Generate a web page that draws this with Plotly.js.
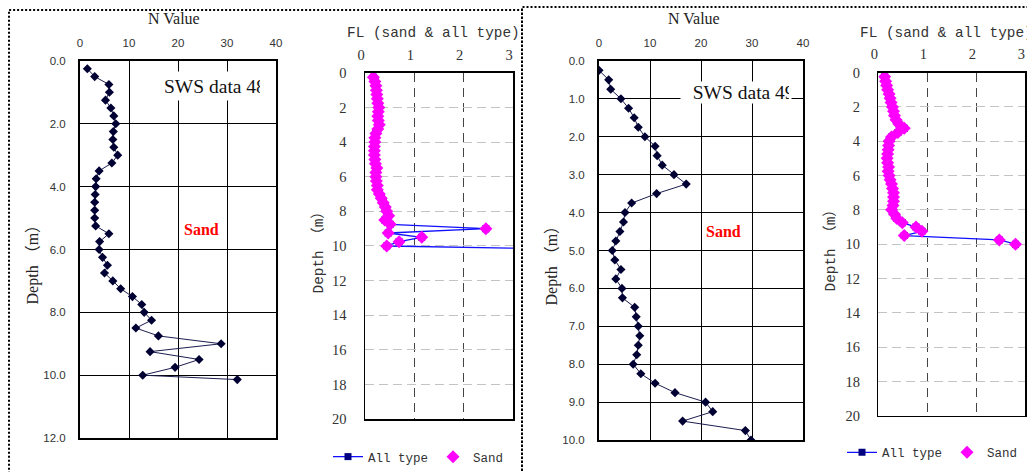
<!DOCTYPE html>
<html>
<head>
<meta charset="utf-8">
<script src="https://cdn.plot.ly/plotly-3.0.1.min.js"></script>
<style>html,body{margin:0;padding:0;background:#fff;}#chart{width:1027px;height:472px;}</style>
</head>
<body>
<div id="chart"></div>
<script>
// ---------- data ----------
const depth48 = [0.25,0.5,0.75,1.0,1.25,1.5,1.75,2.0,2.25,2.5,2.75,3.0,3.25,3.5,3.75,4.0,4.25,4.5,4.75,5.0,
                 5.25,5.5,5.75,6.0,6.25,6.5,6.75,7.0,7.25,7.5,7.75,8.0,8.25,8.5,8.75,9.0,9.25,9.5,9.75,10.0,10.14];
const nValue48 = [1.5,3.0,5.9,6.0,5.2,6.3,6.9,7.3,6.8,6.7,6.9,7.7,6.5,3.9,3.3,3.2,3.1,3.0,3.0,3.0,
                  3.2,5.9,4.0,3.9,4.6,5.6,5.0,6.7,8.3,10.7,12.6,13.1,14.6,11.4,16.0,28.8,14.3,24.3,19.4,12.8,32.1];
const flAll48 = [0.17,0.20,0.22,0.23,0.24,0.25,0.26,0.28,0.27,0.26,0.27,0.29,0.26,0.22,0.20,0.20,0.19,0.19,0.19,0.20,
                 0.21,0.24,0.22,0.22,0.23,0.25,0.25,0.29,0.33,0.37,0.41,0.44,0.48,0.40,0.51,2.45,0.47,1.15,0.69,0.44,3.3];
const sandDepth48 = depth48.slice(0, 40);
const flSand48 = flAll48.slice(0, 40);

const depth49 = [0.25,0.5,0.75,1.0,1.25,1.5,1.75,2.0,2.25,2.5,2.75,3.0,3.25,3.5,3.75,4.0,4.25,4.5,4.75,5.0,
                 5.25,5.5,5.75,6.0,6.25,6.5,6.75,7.0,7.25,7.5,7.75,8.0,8.25,8.5,8.75,9.0,9.25,9.5,9.75,10.0];
const nValue49 = [0,1.9,2.3,4.3,5.8,6.9,7.7,9.0,11.0,11.4,12.4,14.7,17.1,11.3,6.4,5.1,4.8,4.1,3.3,2.6,
                  3.1,4.3,3.3,4.5,4.6,7.0,7.3,7.7,8.0,7.7,7.4,6.7,8.2,11.0,14.9,20.9,22.3,16.4,28.7,29.8];
const flAll49 = [0.13,0.15,0.17,0.19,0.22,0.24,0.26,0.29,0.31,0.33,0.36,0.42,0.53,0.40,0.27,0.22,0.21,0.20,0.19,0.18,
                 0.19,0.21,0.20,0.22,0.24,0.27,0.29,0.31,0.31,0.31,0.30,0.27,0.33,0.38,0.49,0.77,0.89,0.53,2.47,2.80];
const flSand49 = flAll49.slice();

const nTicks = [0,10,20,30,40];
const flTicks = [0,1,2,3];

// ---------- helpers for layout positions ----------
const W = 1027, H = 472;
const px = v => v / W;
const py = v => 1 - v / H;

const nLine = {color:'#1c1c50', width:1};
const nMarker = {symbol:'diamond', size:7, color:'#000033'};
const allLine = {color:'#1010ff', width:1.3};
const allMarker = {symbol:'square', size:7, color:'#000080'};
const sandMarker = {symbol:'diamond', size:10, color:'#ff00ff'};

const traces = [
  {x:nValue48, y:depth48, xaxis:'x', yaxis:'y', mode:'lines+markers', line:nLine, marker:nMarker, showlegend:false, hoverinfo:'skip'},
  {x:flAll48, y:depth48, xaxis:'x2', yaxis:'y2', mode:'lines+markers', name:'All type', line:allLine, marker:allMarker, legend:'legend'},
  {x:flSand48, y:sandDepth48, xaxis:'x2', yaxis:'y2', mode:'markers', name:'Sand', marker:sandMarker, legend:'legend'},
  {x:nValue49, y:depth49, xaxis:'x3', yaxis:'y3', mode:'lines+markers', line:nLine, marker:nMarker, showlegend:false, hoverinfo:'skip'},
  {x:flAll49, y:depth49, xaxis:'x4', yaxis:'y4', mode:'lines+markers', name:'All type', line:allLine, marker:allMarker, legend:'legend2'},
  {x:flSand49, y:depth49, xaxis:'x4', yaxis:'y4', mode:'markers', name:'Sand', marker:sandMarker, legend:'legend2'}
];

const sansTick = {family:'Liberation Sans, Arial, sans-serif', size:11.5, color:'#333'};
const serifTick = {family:'Liberation Serif, serif', size:14.5, color:'#333'};
const monoFont = {family:'Liberation Mono, monospace', size:14.4, color:'#333'};

function nX(domain, anchor){
  return {domain:domain, anchor:anchor, range:[0,40], side:'top', tickvals:nTicks, showgrid:true, gridcolor:'#000', gridwidth:1,
          showline:true, mirror:true, linecolor:'#000', linewidth:2, ticks:'', zeroline:false, tickfont:sansTick,
          ticklabelstandoff:7, fixedrange:true};
}
function nY(domain, anchor, max, step){
  return {domain:domain, anchor:anchor, range:[max,0], dtick:step, tick0:0, tickformat:'.1f', showgrid:true, gridcolor:'#000', gridwidth:1,
          showline:true, mirror:true, linecolor:'#000', linewidth:2, ticks:'', zeroline:false, tickfont:sansTick,
          ticklabelstandoff:10, fixedrange:true};
}
function flX(domain, anchor){
  return {domain:domain, anchor:anchor, range:[0,3], side:'top', tickvals:flTicks, showgrid:true, gridcolor:'#444', gridwidth:1,
          griddash:'9px,6px', showline:true, mirror:true, linecolor:'#000', linewidth:1.5, ticks:'', zeroline:false,
          tickfont:serifTick, ticklabelstandoff:6, ticklabelshift:-4, fixedrange:true};
}
function flY(domain, anchor){
  return {domain:domain, anchor:anchor, range:[20,0], dtick:2, tick0:0, showgrid:true, gridcolor:'#c4c4c4', gridwidth:1,
          griddash:'9px,5px', showline:true, mirror:true, linecolor:'#000', linewidth:1.5, ticks:'', zeroline:false,
          tickfont:serifTick, ticklabelstandoff:14, fixedrange:true};
}

function note(text, x, y, font, extra){
  return Object.assign({text:text, xref:'paper', yref:'paper', x:px(x), y:py(y), xanchor:'center', yanchor:'middle',
                        showarrow:false, font:font}, extra || {});
}

const layout = {
  width:W, height:H, margin:{l:0,r:0,t:0,b:0}, paper_bgcolor:'#fff', plot_bgcolor:'#fff',
  xaxis: nX([px(80), px(276)], 'y'),
  yaxis: nY([py(439), py(61)], 'x', 12, 2),
  xaxis2: flX([px(365), px(513)], 'y2'),
  yaxis2: flY([py(420), py(73)], 'x2'),
  xaxis3: nX([px(599), px(803)], 'y3'),
  yaxis3: nY([py(441), py(61)], 'x3', 10, 1),
  xaxis4: flX([px(878.3), px(1025.3)], 'y4'),
  yaxis4: flY([py(416.7), py(72.7)], 'x4'),
  showlegend:true,
  legend:{orientation:'h', x:px(328), xanchor:'left', y:py(457.7), yanchor:'middle', bgcolor:'rgba(0,0,0,0)',
          font:{family:'Liberation Mono, monospace', size:12.5, color:'#333'}, itemwidth:30},
  legend2:{orientation:'h', x:px(842), xanchor:'left', y:py(452.7), yanchor:'middle', bgcolor:'rgba(0,0,0,0)',
          font:{family:'Liberation Mono, monospace', size:12.5, color:'#333'}, itemwidth:30},
  shapes:[
    {type:'rect', xref:'paper', yref:'paper', x0:px(9), x1:px(522), y0:-0.1, y1:py(10), line:{color:'#000', width:2, dash:'2px,2px'}},
    {type:'rect', xref:'paper', yref:'paper', x0:px(522), x1:1.1, y0:-0.1, y1:py(7), line:{color:'#000', width:2, dash:'2px,2px'}}
  ],
  annotations:[
    note('N Value', 173.5, 19, {family:'Liberation Serif, serif', size:16, color:'#222'}),
    note('N Value', 694.3, 18.5, {family:'Liberation Serif, serif', size:16, color:'#222'}),
    note('FL (sand & all type)', 433.5, 33, monoFont),
    note('FL (sand & all type)', 946.5, 33, monoFont),
    note('Depth （m）', 33, 261, {family:'Liberation Serif, Noto Sans CJK JP, serif', size:16, color:'#222'}, {textangle:-90}),
    note('Depth （m）', 552, 262, {family:'Liberation Serif, Noto Sans CJK JP, serif', size:16, color:'#222'}, {textangle:-90}),
    note('Depth （m）', 318, 250, {family:'Liberation Mono, Noto Sans CJK JP, monospace', size:14.4, color:'#333'}, {textangle:-90}),
    note('Depth （m）', 830, 248, {family:'Liberation Mono, Noto Sans CJK JP, monospace', size:14.4, color:'#333'}, {textangle:-90}),
    note('SWS data 48', 160, 86, {family:'Liberation Serif, serif', size:19.5, color:'#111'},
         {xanchor:'left', width:96, height:22, align:'left', borderpad:3, bgcolor:'#fff'}),
    note('&nbsp;&nbsp;SWS data 49', 680, 92.5, {family:'Liberation Serif, serif', size:19.5, color:'#111'},
         {xanchor:'left', width:106, height:17, align:'left', borderpad:2, bgcolor:'#fff'}),
    note('<b>Sand</b>', 201.7, 230, {family:'Liberation Serif, serif', size:16, color:'#ff0000'}),
    note('<b>Sand</b>', 723, 232, {family:'Liberation Serif, serif', size:16, color:'#ff0000'})
  ]
};

Plotly.newPlot('chart', traces, layout, {staticPlot:true, displayModeBar:false});
</script>
</body>
</html>
